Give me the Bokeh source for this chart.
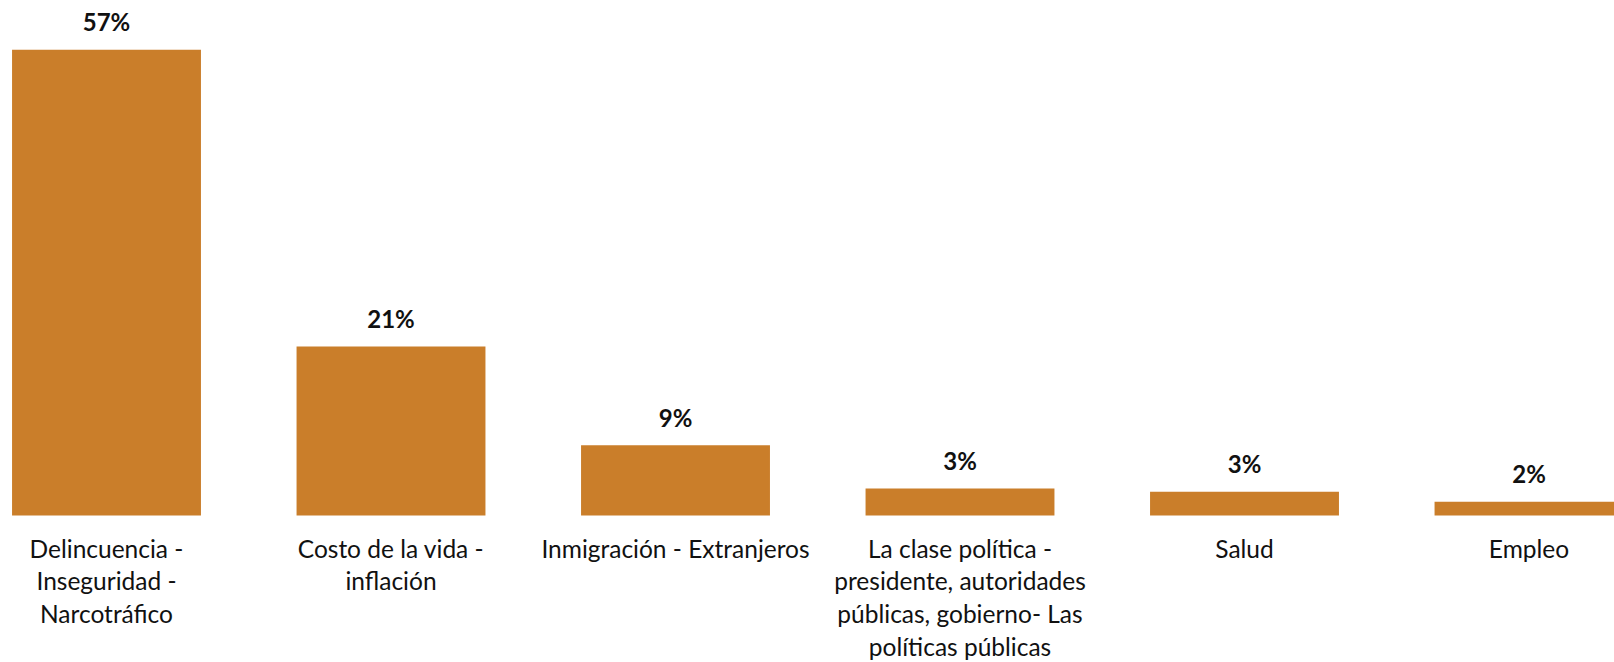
from bokeh.plotting import figure
from bokeh.models import ColumnDataSource, Range1d
from bokeh.core.properties import value
from bokeh.embed import file_html
from bokeh.resources import INLINE

categories = [
    "Delincuencia -\nInseguridad -\nNarcotráfico",
    "Costo de la vida -\ninflación",
    "Inmigración - Extranjeros",
    "La clase política -\npresidente, autoridades\npúblicas, gobierno- Las\npolíticas públicas",
    "Salud",
    "Empleo",
]
values = [57.0, 20.7, 8.6, 3.3, 2.9, 1.7]
value_labels = ["57%", "21%", "9%", "3%", "3%", "2%"]

src = ColumnDataSource(dict(
    x=list(range(len(categories))),
    top=values,
    cat=categories,
    lab=value_labels,
    zero=[0] * len(values),
))

p = figure(width=1614, height=662, output_backend="svg", toolbar_location=None,
           x_range=Range1d(-0.3726, 5.3005), y_range=Range1d(-17.99, 63.04),
           min_border=0)
p.axis.visible = False
p.grid.visible = False
p.outline_line_color = None

p.vbar(x="x", top="top", bottom=0, width=0.664, source=src,
       fill_color="#CA7E2A", line_color=None)

p.text(x="x", y="top", text="lab", source=src, text_align="center",
       text_baseline="middle", y_offset=-28, text_font=value("Lato"),
       text_font_style="bold", text_font_size="24px", text_color="#111111")

p.text(x="x", y="zero", text="cat", source=src, text_align="center",
       text_baseline="top", y_offset=18, text_font=value("Lato"),
       text_font_size="24.5px", text_color="#111111", text_line_height=1.13)

open("out.html", "w").write(file_html(p, INLINE))
